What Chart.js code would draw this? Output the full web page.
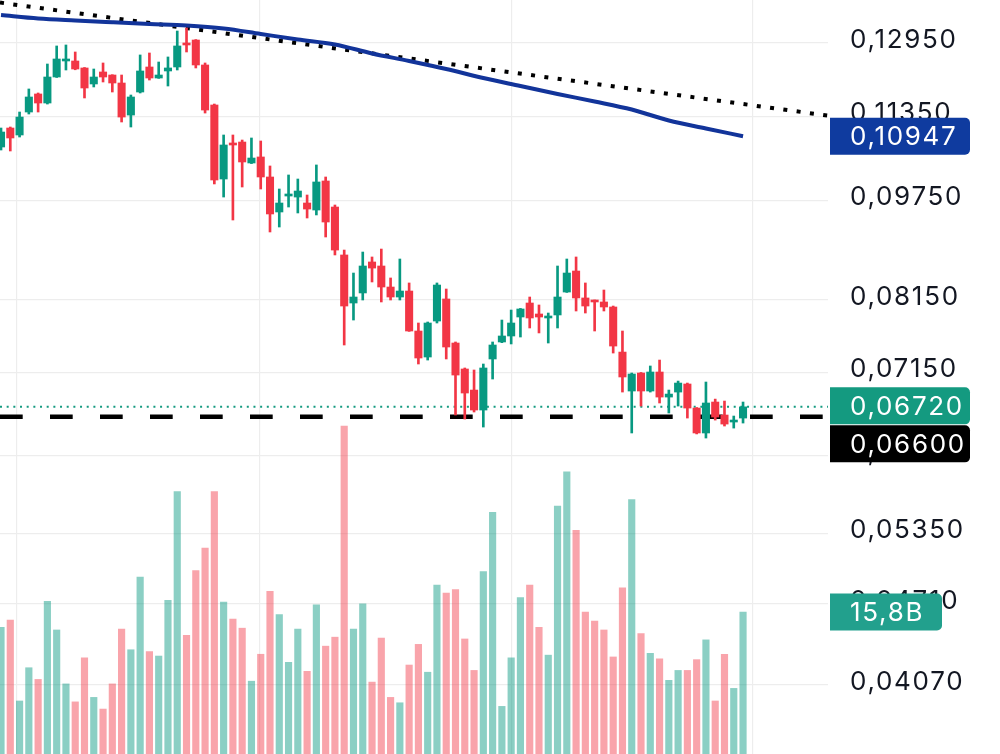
<!DOCTYPE html>
<html>
<head>
<meta charset="utf-8">
<script src="https://cdn.jsdelivr.net/npm/chart.js"></script>
<style>
  html, body { margin: 0; padding: 0; background: #fff; }
  #wrap { width: 1000px; height: 754px; }
</style>
</head>
<body>
<div id="wrap"><canvas id="chart"></canvas></div>
<script>
// candles (one per bar, left to right)
const open = [0.10736, 0.11110, 0.10971, 0.11435, 0.11813, 0.11622, 0.12180, 0.12537, 0.12537, 0.12380,
  0.12028, 0.12291, 0.12224, 0.12049, 0.11373, 0.11855, 0.12402, 0.12158, 0.12313, 0.12402,
  0.12950, 0.13020, 0.12447, 0.11581, 0.10134, 0.10814, 0.10833, 0.10431, 0.10545, 0.10171,
  0.09549, 0.09828, 0.09810, 0.09705, 0.09583, 0.10098, 0.09635, 0.08837, 0.08104, 0.08252,
  0.08726, 0.08663, 0.08341, 0.08192, 0.08281, 0.07705, 0.07352, 0.07845, 0.08163, 0.07540,
  0.07195, 0.06927, 0.06682, 0.07326, 0.07554, 0.07636, 0.07902, 0.08104, 0.07945, 0.07888,
  0.07931, 0.08266, 0.08585, 0.08178, 0.08133, 0.08119, 0.08046, 0.07418, 0.06915, 0.07143,
  0.06915, 0.07156, 0.06840, 0.06902, 0.07003, 0.06706, 0.06411, 0.06779, 0.06622, 0.06539,
  0.06586];
const high = [0.11110, 0.11130, 0.11435, 0.11920, 0.11834, 0.12469, 0.12881, 0.12904, 0.12742, 0.12390,
  0.12357, 0.12492, 0.12230, 0.12224, 0.11791, 0.12674, 0.12719, 0.12514, 0.12628, 0.13233,
  0.13305, 0.13030, 0.12492, 0.11601, 0.10971, 0.10971, 0.10872, 0.10912, 0.10853, 0.10375,
  0.09953, 0.10208, 0.10134, 0.09846, 0.10394, 0.10171, 0.09670, 0.08916, 0.08554, 0.08884,
  0.08805, 0.08932, 0.08478, 0.08773, 0.08402, 0.07817, 0.07831, 0.08402, 0.08311, 0.07554,
  0.07208, 0.07182, 0.07260, 0.07554, 0.07859, 0.08002, 0.08025, 0.08192, 0.08075, 0.07959,
  0.08663, 0.08773, 0.08805, 0.08402, 0.08148, 0.08296, 0.08060, 0.07705, 0.07143, 0.07150,
  0.07234, 0.07312, 0.06927, 0.07040, 0.07015, 0.06712, 0.07028, 0.06815, 0.06791, 0.06610,
  0.06779];
const low = [0.10678, 0.10659, 0.10931, 0.11394, 0.11435, 0.11601, 0.12170, 0.12335, 0.12340, 0.11728,
  0.11963, 0.12071, 0.11855, 0.11231, 0.11130, 0.11834, 0.12114, 0.12150, 0.11984, 0.12335,
  0.12742, 0.12380, 0.11414, 0.10044, 0.09810, 0.09412, 0.09989, 0.10420, 0.09953, 0.09211,
  0.09294, 0.09635, 0.09532, 0.09446, 0.09498, 0.09128, 0.08837, 0.07513, 0.07859, 0.08148,
  0.08417, 0.08119, 0.08148, 0.08148, 0.07700, 0.07260, 0.07312, 0.07817, 0.07326, 0.06622,
  0.06574, 0.06658, 0.06480, 0.07066, 0.07545, 0.07527, 0.07622, 0.07747, 0.07678, 0.07540,
  0.07747, 0.08260, 0.07988, 0.07959, 0.07705, 0.07988, 0.07405, 0.06902, 0.06411, 0.06730,
  0.06902, 0.06767, 0.06646, 0.06730, 0.06586, 0.06400, 0.06353, 0.06562, 0.06492, 0.06468,
  0.06527];
const close = [0.11030, 0.10912, 0.11332, 0.11749, 0.11622, 0.12180, 0.12582, 0.12582, 0.12357, 0.11941,
  0.12180, 0.12180, 0.12049, 0.11332, 0.11749, 0.12313, 0.12158, 0.12224, 0.12380, 0.12881,
  0.12904, 0.12447, 0.11476, 0.10116, 0.10775, 0.10775, 0.10450, 0.10525, 0.10171, 0.09515,
  0.09705, 0.09864, 0.09917, 0.09600, 0.10080, 0.09378, 0.08916, 0.08060, 0.08192, 0.08663,
  0.08631, 0.08341, 0.08192, 0.08281, 0.07705, 0.07339, 0.07817, 0.08371, 0.07486, 0.07117,
  0.06890, 0.06682, 0.07208, 0.07513, 0.07636, 0.07817, 0.08017, 0.07888, 0.07902, 0.07902,
  0.08192, 0.08554, 0.08178, 0.08060, 0.08119, 0.08046, 0.07499, 0.07092, 0.07130, 0.06915,
  0.07156, 0.06840, 0.06877, 0.07015, 0.06706, 0.06411, 0.06767, 0.06598, 0.06515, 0.06562,
  0.06720];
// volume in billions
const volume = [14.1, 14.9, 5.9, 9.6, 8.3, 17.0, 13.8, 7.8, 5.8, 10.7,
  6.3, 5.0, 7.8, 13.9, 11.6, 19.7, 11.4, 10.9, 17.1, 29.2,
  13.2, 20.4, 22.9, 29.2, 16.9, 15.0, 14.0, 8.1, 11.1, 18.1,
  15.5, 10.2, 13.9, 9.2, 16.6, 12.0, 13.0, 36.5, 13.9, 16.7,
  8.0, 12.9, 6.3, 5.7, 9.9, 12.2, 9.1, 18.8, 17.9, 18.3,
  12.8, 9.3, 20.3, 26.9, 5.3, 10.7, 17.4, 18.8, 14.1, 11.0,
  27.6, 31.4, 24.9, 15.8, 14.8, 13.8, 10.8, 18.5, 28.3, 13.4,
  11.2, 10.6, 8.2, 9.3, 9.3, 10.5, 12.7, 5.9, 11.1, 7.3,
  15.8];

// moving average, sampled every 4 bars
const maIndex = [0, 4, 8, 12, 16, 20, 24, 28, 32, 36, 40, 44, 48, 52, 56, 60, 64, 68, 72, 76, 80];
const maValue = [0.13619, 0.13535, 0.13486, 0.13443, 0.13402, 0.13365, 0.13293, 0.13162, 0.13032, 0.12916,
  0.12708, 0.12537, 0.12357, 0.12158, 0.11984, 0.11813, 0.11654, 0.11486, 0.11261, 0.11100, 0.10947];

// dotted trend line end points
const trendIndex = [-0.11, 89.16];
const trendValue = [0.13929, 0.11361];

const lastPrice = 0.0672;
const levelPrice = 0.066;
const priceTicks = [0.1295, 0.1135, 0.0975, 0.0815, 0.0715, 0.0615, 0.0535, 0.0471, 0.0407];
const timeGrid = [1.73, 27.9, 55.0, 81.0];

const UP = '#089981';
const DOWN = '#f23645';
const FONT = 'Inter, "Noto Sans", sans-serif';

const isUp = open.map((o, i) => close[i] >= o);
const idx = open.map((_, i) => i);

const fmt = v => v.toFixed(5).replace('.', ',');

const sideLabels = {
  id: 'sideLabels',
  beforeDraw(chart) {
    chart.ctx.letterSpacing = '1.7px';
  },
  afterDraw(chart) {
    const ctx = chart.ctx;
    const y = chart.scales.y;
    const yv = chart.scales.yv;
    const left = chart.chartArea.right + 2;
    const h = 37;
    function tag(text, cy, w, bg) {
      ctx.save();
      ctx.fillStyle = bg;
      ctx.beginPath();
      ctx.roundRect(left, cy - h / 2, w, h, [0, 5, 5, 0]);
      ctx.fill();
      ctx.fillStyle = '#fff';
      ctx.font = '26px ' + FONT;
      ctx.letterSpacing = '1.7px';
      ctx.textBaseline = 'middle';
      ctx.textAlign = 'left';
      ctx.fillText(text, 850, cy + 1);
      ctx.restore();
      return cy + h / 2;
    }
    tag(fmt(maValue[maValue.length - 1]), y.getPixelForValue(maValue[maValue.length - 1]), 140, '#0f3b9f');
    const bottom = tag(fmt(lastPrice), y.getPixelForValue(lastPrice) - 1, 140, '#149a80');
    tag(fmt(levelPrice), Math.max(y.getPixelForValue(levelPrice), bottom + 1 + h / 2), 140, '#000');
    const lastVol = volume[volume.length - 1];
    tag(lastVol.toFixed(1).replace('.', ',') + 'B', yv.getPixelForValue(lastVol), 112, '#22a08d');
  }
};

new Chart(document.getElementById('chart'), {
  type: 'bar',
  data: {
    datasets: [
      {
        label: 'Volume',
        yAxisID: 'yv',
        data: idx.map(i => ({ x: i, y: volume[i] })),
        backgroundColor: isUp.map(u => u ? 'rgba(8,153,129,0.47)' : 'rgba(242,54,69,0.45)'),
        barThickness: 6.5,
        grouped: false,
        order: 6
      },
      {
        type: 'line',
        label: 'Trend',
        data: trendIndex.map((x, i) => ({ x: x, y: trendValue[i] })),
        borderColor: '#000',
        borderWidth: 4,
        borderDash: [4, 9.4],
        pointRadius: 0,
        order: 5
      },
      {
        type: 'line',
        label: 'Last',
        data: [{ x: -0.11, y: lastPrice }, { x: 89.16, y: lastPrice }],
        borderColor: '#149a80',
        borderWidth: 2,
        borderDash: [2, 4.67],
        pointRadius: 0,
        order: 5
      },
      {
        type: 'line',
        label: 'Level',
        data: [{ x: -0.11, y: levelPrice }, { x: 89.16, y: levelPrice }],
        borderColor: '#000',
        borderWidth: 4.5,
        borderDash: [22.7, 27.3],
        pointRadius: 0,
        order: 5
      },
      {
        type: 'line',
        label: 'MA',
        data: maIndex.map((x, i) => ({ x: x, y: maValue[i] })),
        borderColor: '#12349a',
        borderWidth: 4,
        tension: 0.4,
        cubicInterpolationMode: 'monotone',
        pointRadius: 0,
        order: 4
      },
      {
        label: 'Wick',
        data: idx.map(i => ({ x: i, y: [low[i], high[i]] })),
        backgroundColor: isUp.map(u => u ? UP : DOWN),
        barThickness: 2,
        grouped: false,
        order: 2
      },
      {
        label: 'Body',
        data: idx.map(i => ({ x: i, y: [open[i], close[i]] })),
        backgroundColor: isUp.map(u => u ? UP : DOWN),
        barThickness: 7.4,
        minBarLength: 2,
        grouped: false,
        order: 1
      }
    ]
  },
  options: {
    responsive: true,
    maintainAspectRatio: false,
    animation: false,
    layout: { padding: 0 },
    plugins: {
      legend: { display: false },
      tooltip: { enabled: false }
    },
    scales: {
      x: {
        type: 'linear',
        min: -0.11,
        max: 89.16,
        offset: false,
        afterBuildTicks: s => { s.ticks = timeGrid.map(v => ({ value: v })); },
        afterFit: s => { s.height = 0; s.paddingLeft = 0; s.paddingRight = 0; },
        ticks: { display: false },
        grid: { color: '#ededed', lineWidth: 1.2, drawTicks: false, offset: false },
        border: { display: false }
      },
      y: {
        type: 'logarithmic',
        position: 'right',
        min: 0.03594,
        max: 0.13994,
        afterBuildTicks: s => { s.ticks = priceTicks.map(v => ({ value: v })); },
        afterFit: s => { s.width = 172; s.paddingTop = 0; s.paddingBottom = 0; },
        ticks: {
          padding: 22,
          labelOffset: -3,
          color: '#131722',
          font: { family: FONT, size: 26 },
          callback: v => fmt(v)
        },
        grid: { color: '#ededed', lineWidth: 1.2, drawTicks: false },
        border: { display: false }
      },
      yv: {
        display: false,
        min: 0,
        max: 83.9
      }
    }
  },
  plugins: [sideLabels]
});
</script>
</body>
</html>
